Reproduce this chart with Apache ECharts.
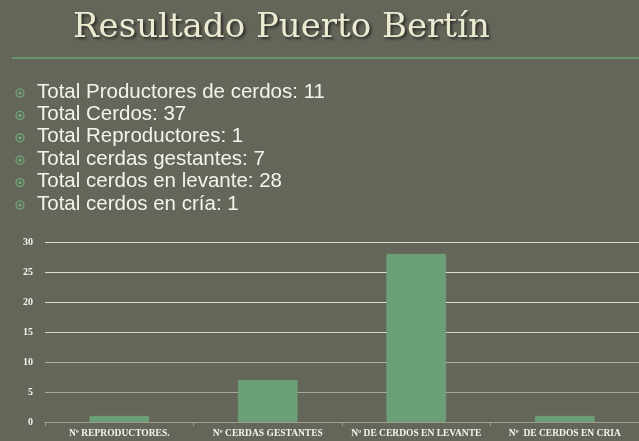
<!DOCTYPE html>
<html>
<head>
<meta charset="utf-8">
<script src="https://cdn.jsdelivr.net/npm/echarts@6/dist/echarts.min.js"></script>
<style>
  html, body { margin: 0; padding: 0; background: #65665a; }
  #chart { width: 639px; height: 441px; }
</style>
</head>
<body>
<div id="chart"></div>
<script>
var titulo = 'Resultado Puerto Bertín';
var resumenEtiquetas = ['Total Productores de cerdos', 'Total Cerdos', 'Total Reproductores',
  'Total cerdas gestantes', 'Total cerdos en levante', 'Total cerdos en cría'];
var resumenValores = [11, 37, 1, 7, 28, 1];
var categorias = ['Nº REPRODUCTORES.', 'Nº CERDAS GESTANTES', 'Nº DE CERDOS EN LEVANTE', 'Nº  DE CERDOS EN CRIA'];
var valores = [1, 7, 28, 1];

var chart = echarts.init(document.getElementById('chart'));

// lista de totales con viñetas
var elementos = [];
for (var i = 0; i < resumenEtiquetas.length; i++) {
  var y = 92 + i * 22.4;
  elementos.push({
    type: 'circle', shape: { cx: 20, cy: y + 1, r: 4 },
    style: { fill: 'none', stroke: '#6fae7a', lineWidth: 1.2 }
  });
  elementos.push({
    type: 'circle', shape: { cx: 20, cy: y + 1, r: 1.6 },
    style: { fill: '#6fae7a' }
  });
  elementos.push({
    type: 'text', x: 37, y: y,
    style: {
      text: resumenEtiquetas[i] + ': ' + resumenValores[i],
      fill: '#f4f4ee', font: '20.5px "Liberation Sans", Arial, sans-serif',
      verticalAlign: 'middle'
    }
  });
}
// línea verde bajo el título
elementos.push({
  type: 'line', shape: { x1: 12, y1: 58, x2: 639, y2: 58 },
  style: { stroke: '#6aa878', lineWidth: 1.5 }
});

option = {
  backgroundColor: '#65665a',
  title: {
    text: titulo,
    left: 68,
    top: 6,
    textStyle: {
      fontFamily: 'DejaVu Serif',
      fontWeight: 'normal',
      fontSize: 34,
      color: '#ecebd2',
      textShadowColor: 'rgba(0,0,0,0.6)',
      textShadowBlur: 3,
      textShadowOffsetX: 2,
      textShadowOffsetY: 2
    }
  },
  graphic: elementos,
  grid: { left: 45, right: 0, top: 242, bottom: 19, containLabel: false },
  xAxis: {
    type: 'category',
    data: categorias,
    axisLine: { lineStyle: { color: '#a0a092', width: 1 } },
    axisTick: { show: true, length: 4, lineStyle: { color: '#a0a092' } },
    axisLabel: {
      interval: 0,
      color: '#f4f4ee', fontFamily: 'Liberation Serif', fontWeight: 'bold', fontSize: 9.5, margin: 7
    }
  },
  yAxis: {
    type: 'value',
    min: 0, max: 30, interval: 5,
    axisLine: { show: false },
    axisTick: { show: false },
    axisLabel: {
      color: '#f4f4ee', fontFamily: 'Liberation Serif', fontWeight: 'bold', fontSize: 10, margin: 12
    },
    splitLine: {
      lineStyle: {
        color: ['#a0a092', '#a8a898', '#b0b0a0', '#d5d5c3', '#dcdcca', '#dcdcca', '#dcdcca'],
        width: 1
      }
    }
  },
  series: [{
    type: 'bar',
    data: valores,
    barWidth: '40%',
    itemStyle: { color: '#6b9f75', borderColor: '#77ab80', borderWidth: 0.5 }
  }]
};
chart.setOption(option);
</script>
</body>
</html>
